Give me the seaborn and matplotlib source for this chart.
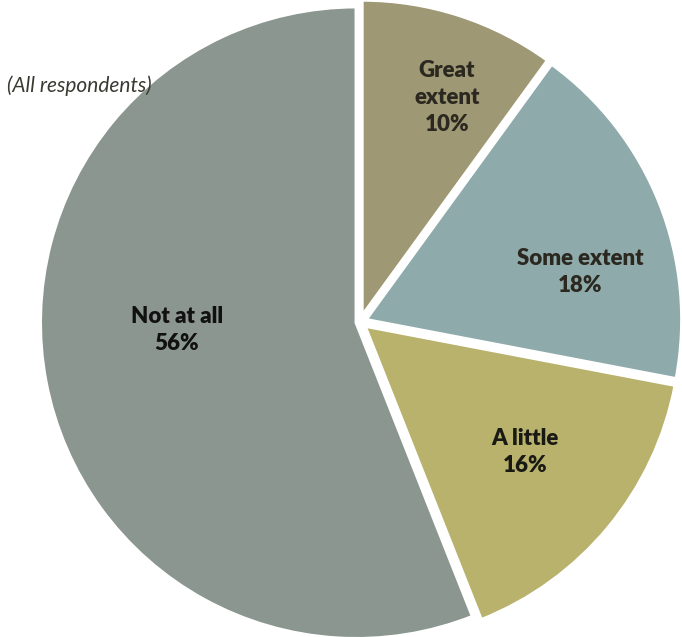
import matplotlib
matplotlib.use("Agg")
import matplotlib.pyplot as plt
import seaborn as sns
import numpy as np

sns.set_theme(style="white")
plt.rcParams['font.family'] = ['Lato', 'DejaVu Sans']

categories = ["Great\nextent", "Some extent", "A little", "Not at all"]
values = [10, 18, 16, 56]
colors = ["#9E9874", "#8FAAAA", "#B8B26C", "#8A968F"]
text_colors = ["#2B2820", "#2B2820", "#1A1A14", "#111111"]
label_dist = [0.763, 0.714, 0.665, 0.58]
label_angle_shift = [-3.1, -8.8, 1.4, -8.3]

fig = plt.figure(figsize=(6.82, 6.37), dpi=100)
ax = fig.add_axes([0, 0, 1, 1])
R = 316.0
cx, cy = 360.0, 322.0
W, H = 682.0, 637.0

wedges, _ = ax.pie(values, colors=colors, startangle=90, counterclock=False,
                   explode=[0.02, 0.02, 0.02, 0.012],
                   wedgeprops=dict(edgecolor="white", linewidth=2.5))
for w, lab, v, d, s, tc in zip(wedges, categories, values, label_dist,
                               label_angle_shift, text_colors):
    ang = np.deg2rad((w.theta1 + w.theta2) / 2 + s)
    ax.text(d * np.cos(ang), d * np.sin(ang), f"{lab}\n{v}%",
            ha="center", va="center", fontsize=16, fontweight="heavy",
            color=tc, linespacing=1.35)

ax.set_xlim(-cx / R, (W - cx) / R)
ax.set_ylim(-(H - cy) / R, cy / R)
ax.set_aspect("equal")
ax.axis("off")

fig.text(7 / W, 1 - 86 / H, "(All respondents)", ha="left", va="center",
         fontsize=15, style="italic", color="#3A3A30")

fig.savefig("out.png", dpi=100)
